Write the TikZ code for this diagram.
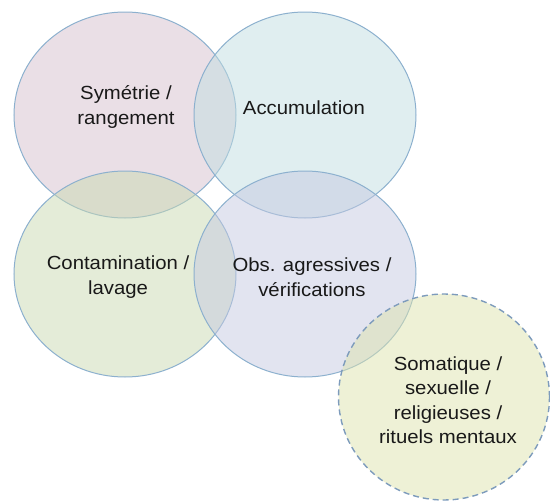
\documentclass[tikz,border=0pt]{standalone}
\usepackage{fontspec}
\setmainfont{Liberation Sans}[FakeStretch=1.07]
\usetikzlibrary{shapes.geometric}
\definecolor{edge}{RGB}{140,176,206}
\definecolor{dedge}{RGB}{125,155,188}
\definecolor{cpink}{RGB}{213,191,205}
\definecolor{cblue}{RGB}{193,221,225}
\definecolor{cgreen}{RGB}{201,217,177}
\definecolor{clav}{RGB}{197,201,225}
\definecolor{cyel}{RGB}{221,227,173}
\definecolor{txt}{RGB}{25,25,25}
\tikzset{
  blob/.style={ellipse, draw=edge, line width=1pt, fill opacity=0.5, draw opacity=1,
    minimum width=222pt, minimum height=206pt, inner sep=0pt},
  dashblob/.style={blob, draw=dedge, line width=1.4pt, dash pattern=on 6pt off 4pt},
  lbl/.style={align=center, text=txt, font=\fontsize{19pt}{24.5pt}\selectfont, inner sep=0pt}
}
\begin{document}
\begin{tikzpicture}[x=1pt,y=-1pt]
\useasboundingbox (0,0) rectangle (550,504);
\node[blob, fill=cpink]  (c1) at (125,115) {};
\node[blob, fill=cblue]  (c2) at (305,115) {};
\node[blob, fill=cgreen] (c3) at (125,274) {};
\node[blob, fill=clav]   (c4) at (305,274) {};
\node[dashblob, fill=cyel, minimum width=211pt] (c5) at (444,397) {};
\node[lbl] (t1) at (126,107) {Symétrie /\\rangement};
\node[lbl] (t2) at (304,108) {Accumulation};
\node[lbl] (t3) at (118,277) {Contamination /\\lavage};
\node[lbl] (t4) at (312,277) {Obs. agressives /\\vérifications};
\node[lbl] (t5) at (448,400) {Somatique /\\sexuelle /\\religieuses /\\rituels mentaux};
\end{tikzpicture}
\end{document}
